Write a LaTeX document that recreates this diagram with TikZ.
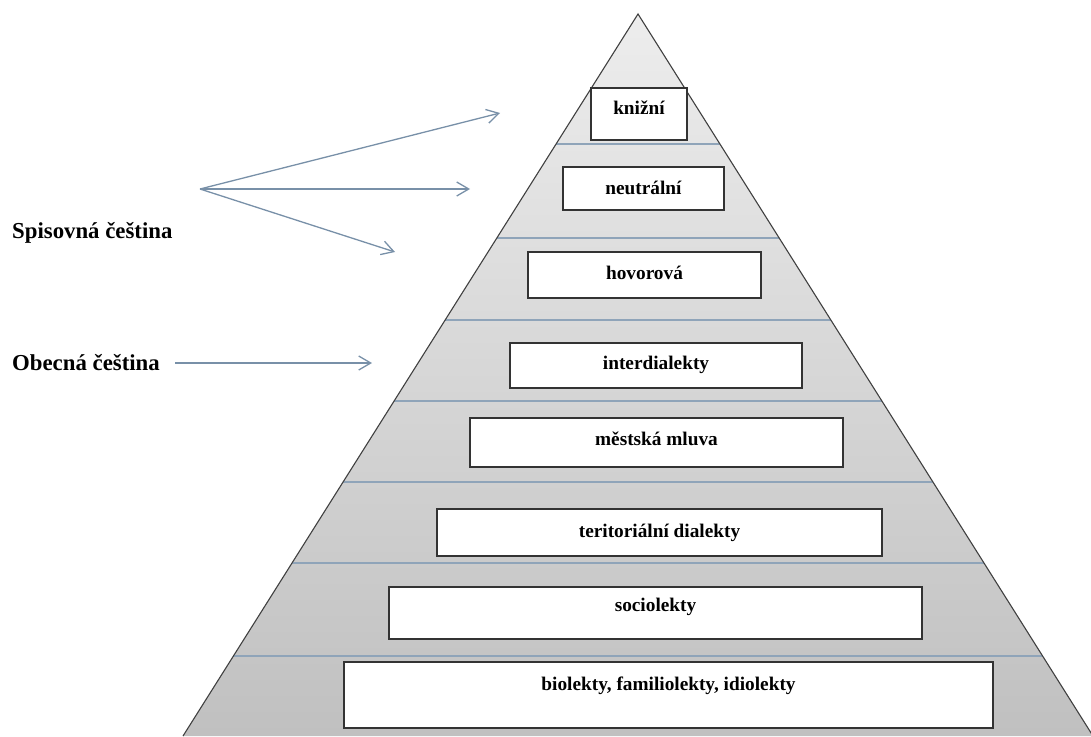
\documentclass[tikz,border=0pt]{standalone}
\usepackage{fontspec}
\setmainfont{Liberation Serif}
\usetikzlibrary{arrows.meta,calc}
\definecolor{divc}{HTML}{8FA4B9}
\definecolor{arrc}{HTML}{7890A8}
\definecolor{edgec}{HTML}{404040}
\definecolor{boxc}{HTML}{333333}
\definecolor{topg}{HTML}{EDEDED}
\definecolor{botg}{HTML}{C0C0C0}
\tikzset{
  layerbox/.style={draw=boxc, line width=1.3pt, fill=white, inner sep=0pt},
  boxlabel/.style={anchor=base, inner sep=0pt, font=\fontsize{19.3}{21}\selectfont\bfseries},
  sidelabel/.style={anchor=base west, inner sep=0pt, font=\fontsize{22.8}{25}\selectfont\bfseries},
  divider/.style={draw=divc, line width=1.5pt},
  pointer/.style={draw=arrc, line width=1.3pt, -{Straight Barb[length=12pt,width=14pt,line width=1.3pt]}}
}
\begin{document}
\begin{tikzpicture}[x=1pt,y=-1pt]
\useasboundingbox (0,0) rectangle (1091,736);
% pyramid
\coordinate (A) at (638,14);
\coordinate (BL) at (183,736);
\coordinate (BR) at (1093,736);
\shade[top color=topg, bottom color=botg] (A) -- (BL) -- (BR) -- cycle;
% dividers
\foreach \t in {0.1801,0.3102,0.4238,0.5360,0.6482,0.7604,0.8892}{
  \draw[divider] ($(A)!\t!(BL)$) -- ($(A)!\t!(BR)$);
}
\draw[edgec, line width=1.1pt] (BL) -- (A) -- (BR);
% boxes
\node[layerbox, minimum width=96pt,  minimum height=52pt] (kn) at (639,114) {};
\node[layerbox, minimum width=161pt, minimum height=43pt] (ne) at (643.5,188.5) {};
\node[layerbox, minimum width=233pt, minimum height=46pt] (ho) at (644.5,275) {};
\node[layerbox, minimum width=292pt, minimum height=45pt] (in) at (656,365.5) {};
\node[layerbox, minimum width=373pt, minimum height=49pt] (me) at (656.5,442.5) {};
\node[layerbox, minimum width=445pt, minimum height=47pt] (te) at (659.5,532.5) {};
\node[layerbox, minimum width=533pt, minimum height=52pt] (so) at (655.5,613) {};
\node[layerbox, minimum width=649pt, minimum height=66pt] (bi) at (668.5,695) {};
% labels
\node[boxlabel] (knl) at (639,114) {knižní};
\node[boxlabel] (nel) at (643.5,194) {neutrální};
\node[boxlabel] (hol) at (644.5,279) {hovorová};
\node[boxlabel] (inl) at (656,369) {interdialekty};
\node[boxlabel] (mel) at (656.5,445) {městská mluva};
\node[boxlabel] (tel) at (659.5,537) {teritoriální dialekty};
\node[boxlabel] (sol) at (655.5,611) {sociolekty};
\node[boxlabel] (bil) at (668.5,690) {biolekty, familiolekty, idiolekty};
% side labels
\node[sidelabel] (sp) at (12,238) {Spisovná čeština};
\node[sidelabel] (ob) at (12,370) {Obecná čeština};
% arrows
\coordinate (fan) at (200,189);
\coordinate (t1) at (500,113);
\coordinate (t2) at (470,189);
\coordinate (t3) at (395,252);
\coordinate (os) at (175,363);
\coordinate (ot) at (372,363);
\draw[pointer] (fan) -- (t1);
\draw[pointer] (fan) -- (t2);
\draw[pointer] (fan) -- (t3);
\draw[pointer] (os) -- (ot);
\end{tikzpicture}
\end{document}
